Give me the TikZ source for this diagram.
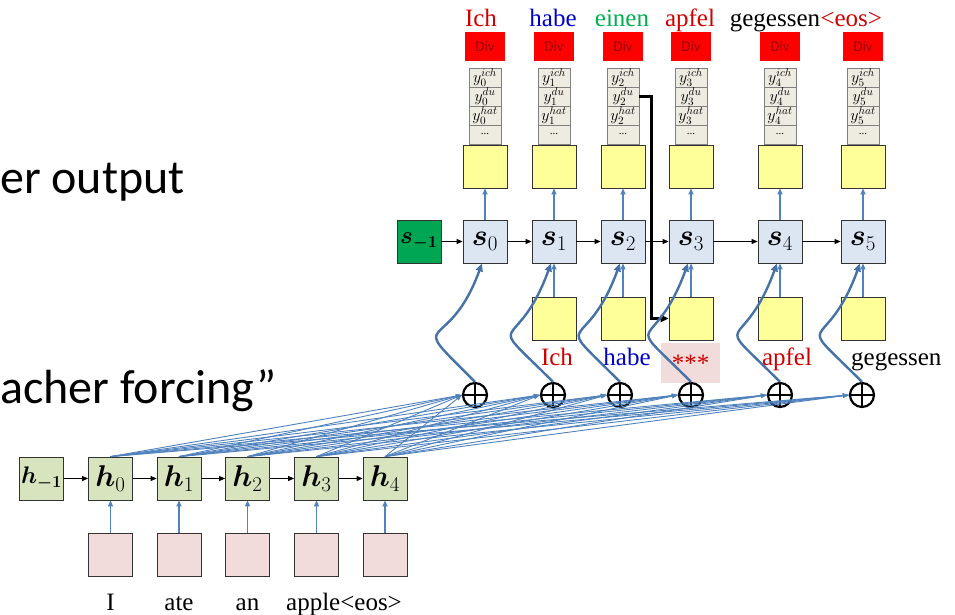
\RequirePackage{fix-cm}
\documentclass[tikz,border=0pt]{standalone}
\usepackage{amsmath,bm}
\usepackage{fontspec}
\setmainfont{Liberation Serif}
\newfontfamily\slidefont{Carlito}
\usetikzlibrary{arrows.meta}
\definecolor{attn}{HTML}{5082BE}
\definecolor{curv}{HTML}{4672A8}
\definecolor{sbox}{HTML}{DCE6F2}
\definecolor{hbox}{HTML}{D7E4BD}
\definecolor{xbox}{HTML}{F2DCDB}
\definecolor{ybox}{HTML}{FFFF99}
\definecolor{cell}{HTML}{EEECE1}
\definecolor{sinit}{HTML}{00A651}
\definecolor{wred}{HTML}{D00000}
\definecolor{wblue}{HTML}{0000CC}
\definecolor{wgreen}{HTML}{00B050}
\definecolor{divtxt}{HTML}{990000}

\begin{document}
\begin{tikzpicture}[x=1pt, y=-1pt, every node/.style={inner sep=0pt},
  unit/.style={draw=black!80, line width=0.8pt, minimum width=44pt, minimum height=43pt, font=\fontsize{30}{32}\selectfont},
  small unit/.style={unit, font=\fontsize{24}{26}\selectfont},
  word/.style={font=\fontsize{25}{28}\selectfont},
  cellbox/.style={draw=black!50, line width=0.6pt, fill=cell, minimum width=32pt, minimum height=19pt, font=\fontsize{16}{17}\selectfont},
  divbox/.style={fill=red, minimum width=40pt, minimum height=29pt, text=divtxt, font=\slidefont\fontsize{15}{17}\selectfont},
  addop/.style={circle, draw, line width=2.2pt, minimum size=24pt, path picture={\draw[line width=2.2pt] (path picture bounding box.north) -- (path picture bounding box.south) (path picture bounding box.west) -- (path picture bounding box.east);}},
  fwd/.style={black, line width=0.8pt, -{Triangle[length=6pt,width=5pt]}},
  vin/.style={attn, line width=1.3pt, -{Triangle[length=6pt,width=5pt]}},
  att/.style={attn, line width=0.9pt, -{Triangle[length=6pt,width=4pt]}},
  feed/.style={black, line width=2.4pt, -{Triangle[length=8pt,width=7pt]}},
  curvy/.style={curv, line width=2.4pt, -{Triangle[length=8pt,width=7pt]}}]
\useasboundingbox (0,0) rectangle (955,615);
% slide text, cut off at the left edge
\node[font=\slidefont\fontsize{48}{50}\selectfont, anchor=base west] (tout) at (0,193) {er output};
\node[font=\slidefont\fontsize{48}{50}\selectfont, anchor=base west] (tforce) at (0,403) {acher forcing”};
% decoder states, output layers and the vocabulary columns
\node[small unit, fill=sinit] (sm) at (419,241.5) {$\bm{s}_{\bm{-1}}$};
\foreach \i/\x in {0/485,1/554,2/623,3/691,4/780,5/863} {
  \node[unit, fill=sbox] (s\i) at (\x,241.5) {$\bm{s}_{\i}$};
  \node[unit, fill=ybox] (yt\i) at (\x,166.5) {};
  \node[cellbox] (ca\i) at (\x,77.5) {$y_{\i}^{ich}$};
  \node[cellbox] (cb\i) at (\x,96.5) {$y_{\i}^{du}$};
  \node[cellbox] (cc\i) at (\x,115.5) {$y_{\i}^{hat}$};
  \node[cellbox, font=\fontsize{11}{12}\selectfont] (cd\i) at (\x,134.5) {...};
  \node[divbox] (dv\i) at (\x,46.5) {Div};
  \draw[vin] (s\i) -- (yt\i);
}
\draw[fwd] (sm) -- (s0);
\foreach \i/\j in {0/1,1/2,2/3,3/4,4/5} \draw[fwd] (s\i) -- (s\j);
% inputs fed back in
\foreach \i/\x in {1/554,2/623,3/691,4/780,5/863} { \node[unit, fill=ybox] (yb\i) at (\x,318.5) {}; \draw[vin] (yb\i) -- (s\i); }
\draw[feed] (cb2.east) -- ++(12,0) |- (yb3.west);
% words on top
\node[word, text=wred, anchor=base] (t0) at (481,27) {Ich};
\node[word, text=wblue, anchor=base] (t1) at (553,27) {habe};
\node[word, text=wgreen, anchor=base] (t2) at (622,27) {einen};
\node[word, text=wred, anchor=base] (t3) at (690,27) {apfel};
\node[word, anchor=base] (t4) at (775,27) {gegessen};
\node[word, text=wred, anchor=base west] (t5) at (t4.base east) {<eos>};
% words under the fed-back inputs
\node[word, text=wred, anchor=base] (l1) at (557,365) {Ich};
\node[word, text=wblue, anchor=base] (l2) at (627,365) {habe};
\node[word, text=wred, fill=xbox, minimum width=59pt, minimum height=40pt] (l3) at (690.5,363) {***};
\node[word, text=wred, anchor=base] (l4) at (787,365) {apfel};
\node[word, anchor=base west] (l5) at (851,365) {gegessen};
% attention sums and their paths up into the states
\foreach \j/\x in {0/475,1/553,2/620,3/691,4/780,5/862} \node[addop] (o\j) at (\x,395) {};
\foreach \j in {0,...,5} \draw[curvy] (o\j.north) to[out=135, in=250, looseness=2.2] ([xshift=-3pt]s\j.south);
% encoder
\node[small unit, fill=hbox] (hm) at (41.5,478.5) {$\bm{h}_{\bm{-1}}$};
\foreach \i/\x in {0/110.5,1/179,2/247.5,3/316.5,4/385} {
  \node[unit, fill=hbox] (h\i) at (\x,478.5) {$\bm{h}_{\i}$};
  \node[unit, fill=xbox] (x\i) at (\x,555) {};
  \draw[vin] (x\i) -- (h\i);
}
\draw[fwd] (hm) -- (h0);
\foreach \i/\j in {0/1,1/2,2/3,3/4} \draw[fwd] (h\i) -- (h\j);
\foreach \i/\x/\w in {0/110.5/I,1/179/ate,2/247.5/an,3/344/apple<eos>} \node[word, anchor=base] (w\i) at (\x,610) {\w};
% every encoder state goes to every sum
\foreach \i in {0,...,4} \foreach \j in {0,...,5} \draw[att] (h\i.north) -- (o\j.west);
\end{tikzpicture}
\end{document}
